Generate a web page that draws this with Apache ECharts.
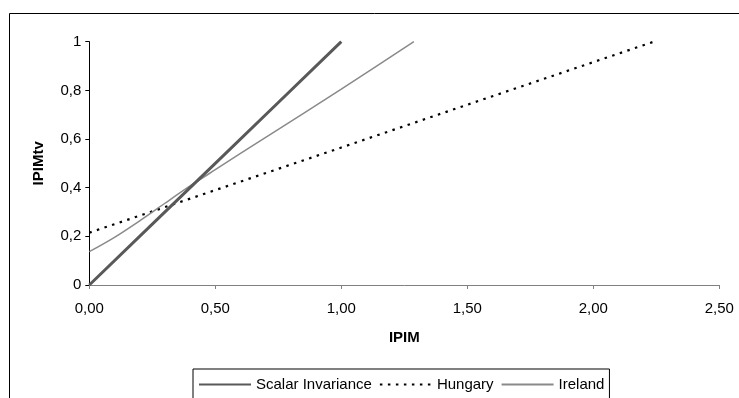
<!DOCTYPE html>
<html>
<head>
<meta charset="utf-8">
<script src="https://cdn.jsdelivr.net/npm/echarts@6/dist/echarts.min.js"></script>
<style>
html,body{margin:0;padding:0;background:#fff;}
#c{width:739px;height:398px;}
</style>
</head>
<body>
<div id="c"></div>
<script>
var seriesNames = ['Scalar Invariance', 'Hungary', 'Ireland'];
var scalarX = [0, 0.25, 0.5, 0.75, 1.0];
var scalarY = [0, 0.25, 0.5, 0.75, 1.0];
var hungaryX = [0, 0.5, 1.0, 1.5, 2.0, 2.24];
var hungaryY = [0.215, 0.39, 0.565, 0.741, 0.916, 1.0];
var irelandX = [0, 0.1, 0.2, 0.3, 0.4, 0.5, 0.7, 1.0, 1.288];
var irelandY = [0.137, 0.196, 0.264, 0.336, 0.407, 0.474, 0.607, 0.805, 1.0];
var xTicks = [0, 0.5, 1.0, 1.5, 2.0, 2.5];
var yTicks = [0, 0.2, 0.4, 0.6, 0.8, 1.0];

function pairs(xs, ys) { return xs.map(function (x, i) { return [x, ys[i]]; }); }
var FONT = '"Liberation Sans", Arial, sans-serif';

var chart = echarts.init(document.getElementById('c'), null, { renderer: 'canvas' });
chart.setOption({
  animation: false,
  backgroundColor: '#fff',
  textStyle: { fontFamily: FONT },
  graphic: [{
    type: 'rect', silent: true, z: -1,
    shape: { x: 9.5, y: 13.5, width: 760, height: 420 },
    style: { fill: 'none', stroke: '#000', lineWidth: 1 }
  }],
  grid: { left: 89.3, right: 19.7, top: 41.7, bottom: 113, containLabel: false },
  legend: {
    left: 193, top: 369,
    orient: 'horizontal',
    padding: [8, 5, 20, 5],
    borderColor: '#000', borderWidth: 1,
    backgroundColor: '#fff',
    itemWidth: 52, itemHeight: 14, itemGap: 7,
    itemStyle: { opacity: 0, borderWidth: 0 },
    textStyle: { fontFamily: FONT, fontSize: 15, color: '#000' },
    data: seriesNames
  },
  xAxis: {
    type: 'value', min: 0, max: 2.5, interval: 0.5,
    name: 'IPIM', nameLocation: 'middle', nameGap: 45,
    nameTextStyle: { fontFamily: FONT, fontSize: 15, fontWeight: 'bold', color: '#000' },
    axisLine: { show: true, onZero: false, lineStyle: { color: '#808080', width: 1 } },
    axisTick: { show: true, length: 4, inside: false, lineStyle: { color: '#808080' } },
    splitLine: { show: false },
    axisLabel: { fontFamily: FONT, fontSize: 15, color: '#000', margin: 16,
      formatter: function (v) { return v.toFixed(2).replace('.', ','); } }
  },
  yAxis: {
    type: 'value', min: 0, max: 1, interval: 0.2,
    name: 'IPIMtv', nameLocation: 'middle', nameGap: 43, nameRotate: 90,
    nameTextStyle: { fontFamily: FONT, fontSize: 15, fontWeight: 'bold', color: '#000' },
    axisLine: { show: true, lineStyle: { color: '#000', width: 1 } },
    axisTick: { show: true, length: 4, lineStyle: { color: '#000' } },
    splitLine: { show: false },
    axisLabel: { fontFamily: FONT, fontSize: 15, color: '#000', margin: 8,
      formatter: function (v) { return String(Math.round(v * 10) / 10).replace('.', ','); } }
  },
  series: [
    { name: seriesNames[0], type: 'line', data: pairs(scalarX, scalarY), symbol: 'none', z: 3,
      lineStyle: { color: '#595959', width: 3 }, itemStyle: { color: '#595959' } },
    { name: seriesNames[1], type: 'line', data: pairs(hungaryX, hungaryY), symbol: 'none', z: 2,
      lineStyle: { color: '#000', width: 2.2, type: [2.5, 5.5] }, itemStyle: { color: '#000' } },
    { name: seriesNames[2], type: 'line', data: pairs(irelandX, irelandY), symbol: 'none', smooth: 0.3, z: 2,
      lineStyle: { color: '#8a8a8a', width: 1.5 }, itemStyle: { color: '#8a8a8a' } }
  ]
});
</script>
</body>
</html>
